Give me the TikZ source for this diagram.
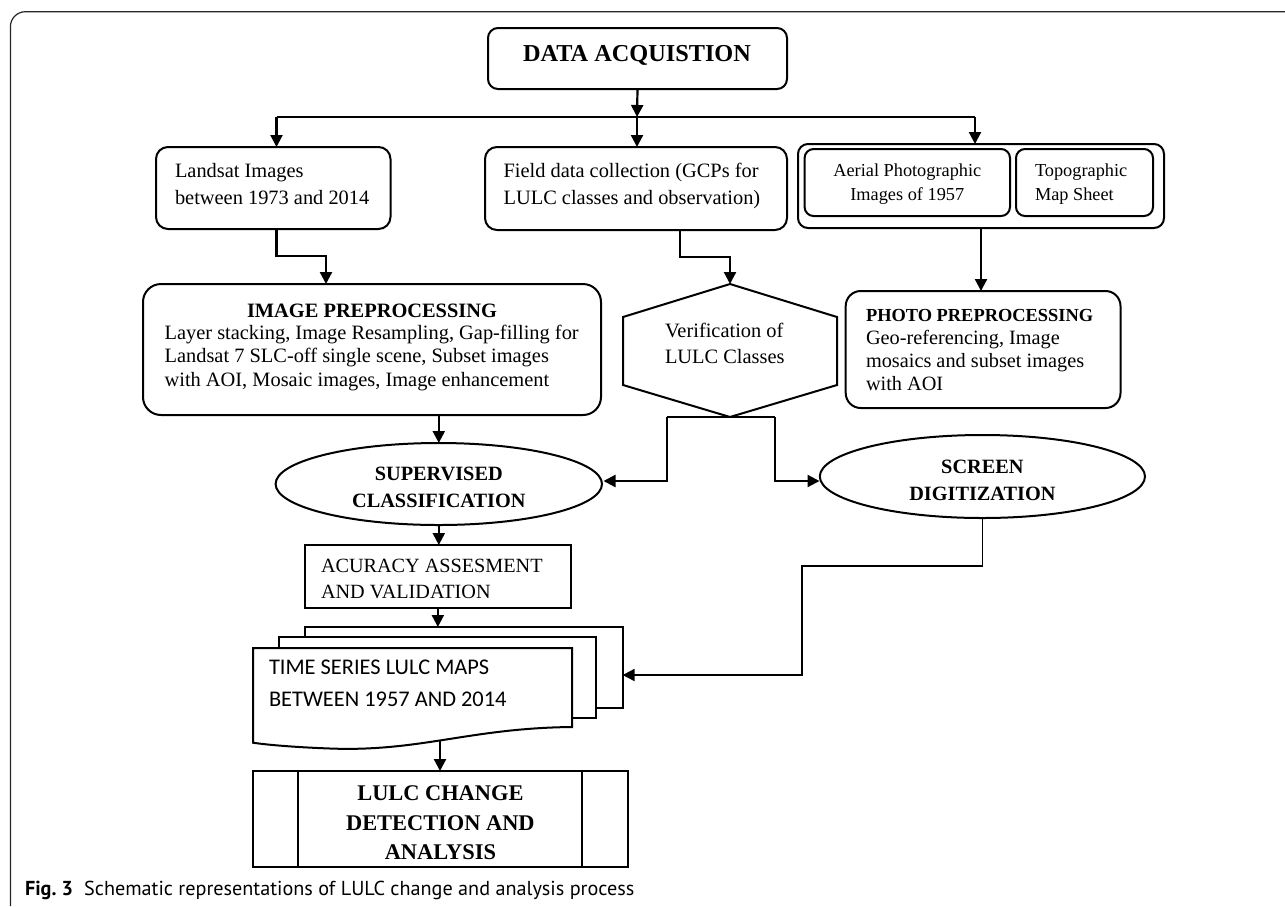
\documentclass[tikz,border=0pt]{standalone}
\usepackage{fontspec}
\setmainfont{Liberation Serif}
\newfontfamily\calib{Carlito}
\newfontfamily\capf{PT Sans}
\usetikzlibrary{arrows.meta,shapes.geometric}
\newcommand\myL[1]{\begin{tabular}[t]{@{}l@{}}#1\end{tabular}}
\newcommand\myC[1]{\begin{tabular}[t]{@{}c@{}}#1\end{tabular}}
\begin{document}
\begin{tikzpicture}[x=1pt,y=-1pt,
  every node/.style={inner sep=0pt,outer sep=0pt},
  box/.style={draw,line width=2pt},
  rbox/.style={box,rounded corners=10pt},
  arr/.style={line width=2.2pt,-{Triangle[length=12pt,width=12pt]}},
  lnk/.style={line width=2.2pt},
  tl/.style={anchor=base west},
  tc/.style={anchor=base},
]
\useasboundingbox (0,0) rectangle (1285,906);
% frame
\draw[line width=1.2pt,black!85,rounded corners=15pt] (1285,11.7) -- (10.4,11.7) -- (10.4,906);

% boxes
\node[rbox,minimum width=299pt,minimum height=61pt] (data) at (637.5,58.5) {};
\node[rbox,rounded corners=12pt,minimum width=234.5pt,minimum height=82pt] (land) at (273.25,188) {};
\node[rbox,rounded corners=12pt,minimum width=302pt,minimum height=83pt] (field) at (636,188.5) {};
\node[rbox,minimum width=366pt,minimum height=84pt] (grp) at (981,186) {};
\node[rbox,rounded corners=9pt,minimum width=205.4pt,minimum height=67pt] (aer) at (907.3,182.5) {};
\node[rbox,rounded corners=9pt,minimum width=137pt,minimum height=67pt] (topo) at (1084.5,182.5) {};
\node[rbox,rounded corners=18pt,minimum width=458pt,minimum height=131pt] (ip) at (372,349.5) {};
\node[minimum width=214pt,minimum height=133pt] (hex) at (730,350.5) {};
\draw[box] (hex.north) -- ([yshift=-33pt]hex.north east) -- ([yshift=32pt]hex.south east)
  -- (hex.south) -- ([yshift=32pt]hex.south west) -- ([yshift=-33pt]hex.north west) -- cycle;
\node[rbox,rounded corners=15pt,minimum width=274.8pt,minimum height=117pt] (photo) at (983.1,349.5) {};
\node[box,ellipse,minimum width=326.4pt,minimum height=82pt] (sup) at (438.8,484) {};
\node[box,ellipse,minimum width=325.2pt,minimum height=83pt] (scr) at (982.4,476.5) {};
\node[box,minimum width=266.3pt,minimum height=63pt] (acc) at (437.85,576.5) {};
\node[box,fill=white,minimum width=317.9pt,minimum height=81pt] (docb) at (463.65,667.5) {};
\node[box,fill=white,minimum width=317pt,minimum height=81pt] (docm) at (437.5,677.5) {};
\node[minimum width=319pt,minimum height=94pt] (docf) at (412.5,695) {};
\draw[box,fill=white] (253,648) -- (572,648) -- (572,727)
  .. controls (470,728) and (420,752) .. (330,748.5)
  .. controls (290,747) and (265,744.5) .. (253,742.7) -- cycle;
\coordinate (docbot) at (440,741);
\node[box,minimum width=375.2pt,minimum height=96.3pt] (lulc) at (440.4,819.15) {};
\draw[box] (297.6,771) -- (297.6,867.3);
\draw[box] (582.4,771) -- (582.4,867.3);

% connectors
\coordinate (split) at (637,117);
\draw[arr] (data.south) -- (split);
\draw[lnk] (276.5,117) -- (975,117);
\draw[arr] (split) -- (split |- field.north);
\draw[arr] (276.5,117) -- (276.5,147);
\draw[arr] (975,117) -- (975,144);
\coordinate (c1) at (326,256);
\draw[arr] ([xshift=3.25pt]land.south) |- (c1) -- (c1 |- ip.north);
\coordinate (c2) at (730,257);
\draw[arr] ([xshift=44pt]field.south) |- (c2) -- (hex.north);
\draw[arr] (grp.south) -- (grp.south |- photo.north);
\draw[arr] (sup.north |- ip.south) -- (sup.north);
\coordinate (hl) at (666.7,417);
\coordinate (hr) at (775,417);
\coordinate (supin) at (603.5,481);
\coordinate (scrin) at (819.5,481);
\draw[lnk] (hl) -- (hr);
\draw[arr] (hl) |- (supin);
\draw[arr] (hr) |- (scrin);
\draw[arr] (sup.south) -- (sup.south |- acc.north);
\draw[arr] (acc.south) -- (acc.south |- docb.north);
\draw[arr] (docbot) -- (docbot |- lulc.north);
\coordinate (bA) at (801.7,566);
\coordinate (bB) at (801.7,675);
\draw[arr,line width=1.8pt] (scr.south) |- (bA) -- (bB) -- (docb.east |- bB);

% texts
\node[tc,font=\bfseries\fontsize{24.3}{29}\selectfont] (tdata) at (637,61) {DATA ACQUISTION};
\node[tl,font=\fontsize{20.4}{27}\selectfont] (tland) at (175,177) {\myL{Landsat Images\\between 1973 and 2014}};
\node[tl,font=\fontsize{20.4}{27}\selectfont] (tfield) at (503.6,177) {\myL{Field data collection (GCPs for\\LULC classes and observation)}};
\node[tc,font=\fontsize{18.3}{24}\selectfont] (taer) at (907.3,176) {\myC{Aerial Photographic\\Images of 1957}};
\node[tl,font=\fontsize{18.3}{24}\selectfont] (ttopo) at (1035,176) {\myL{Topographic\\Map Sheet}};
\node[tc,font=\bfseries\fontsize{20.4}{24}\selectfont] (tiph) at (372,317) {IMAGE PREPROCESSING};
\node[tl,font=\fontsize{20.4}{23.5}\selectfont] (tip) at (164.6,339.3) {\myL{Layer stacking, Image Resampling, Gap-filling for\\Landsat 7 SLC-off single scene, Subset images\\with AOI, Mosaic images, Image enhancement}};
\node[tl,font=\fontsize{20.4}{26}\selectfont] (thex) at (665,337) {\myL{Verification of\\LULC Classes}};
\node[tl,font=\bfseries\fontsize{18.4}{23}\selectfont] (tphh) at (866,321.7) {PHOTO PREPROCESSING};
\node[tl,font=\fontsize{20.3}{23.3}\selectfont] (tph) at (866,344.3) {\myL{Geo-referencing, Image\\mosaics and subset images\\with AOI}};
\node[tc,font=\bfseries\fontsize{20.3}{27.3}\selectfont] (tsup) at (438.8,480) {\myC{SUPERVISED\\CLASSIFICATION}};
\node[tc,font=\bfseries\fontsize{20.3}{26.7}\selectfont] (tscr) at (982.4,473.3) {\myC{SCREEN\\DIGITIZATION}};
\node[tl,font=\fontsize{20.2}{26.5}\selectfont] (tacc) at (321,572) {\myL{ACURACY ASSESMENT\\AND VALIDATION}};
\node[tl,font=\calib\fontsize{22.4}{32}\selectfont] (tdoc) at (269,674) {\myL{TIME SERIES LULC MAPS\\BETWEEN 1957 AND 2014}};
\node[tc,font=\bfseries\fontsize{22.4}{29.3}\selectfont] (tlulc) at (440.4,800.7) {\myC{LULC CHANGE\\DETECTION AND\\ANALYSIS}};
\node[tl,font=\capf\fontsize{20.2}{23}\selectfont] (cap) at (25,895) {{\bfseries Fig.~3}\hspace{0.55em}Schematic representations of LULC change and analysis process};
\end{tikzpicture}
\end{document}
